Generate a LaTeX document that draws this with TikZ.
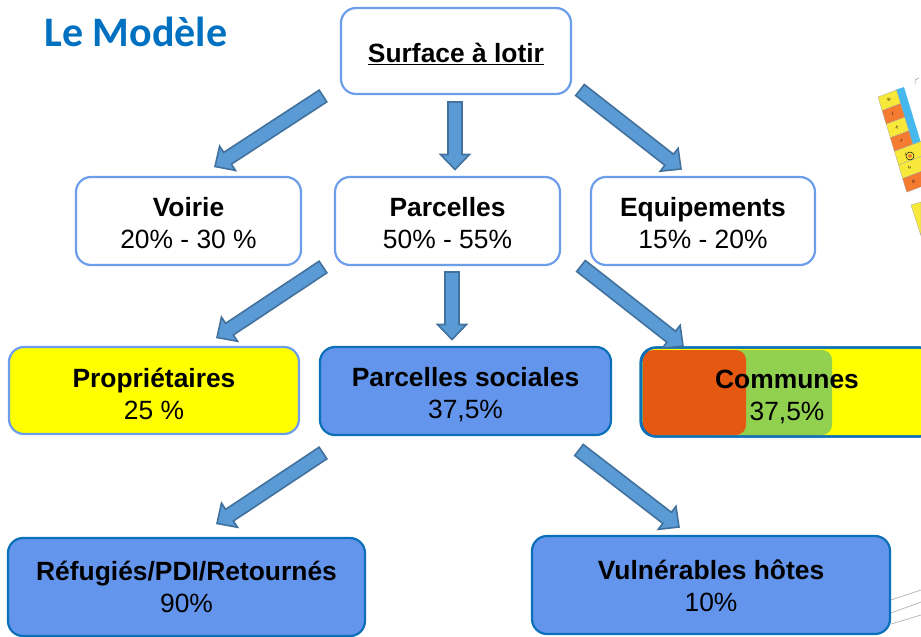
\documentclass[tikz,border=0pt]{standalone}
\usepackage{fontspec}
\setmainfont{Liberation Sans}
\newfontfamily\titlefont{Carlito}
\usetikzlibrary{calc}
\definecolor{lightedge}{HTML}{6D9EEB}
\definecolor{darkedge}{HTML}{0B70B8}
\definecolor{fillblue}{HTML}{6495ED}
\definecolor{arrowfill}{HTML}{5B9BD5}
\definecolor{arrowedge}{HTML}{41719C}
\definecolor{titleblue}{HTML}{0070C0}
\definecolor{commorange}{HTML}{E55812}
\definecolor{commgreen}{HTML}{92D050}
\definecolor{pureyellow}{HTML}{FFFF00}
\definecolor{mapyellow}{HTML}{F7E83A}
\definecolor{maporange}{HTML}{F47B30}
\definecolor{mapblue}{HTML}{45B8EE}
\tikzset{
  x=1pt,y=-1pt,
  boxbase/.style={rounded corners=15pt,line width=2.2pt,align=center,text=black,inner sep=0pt,anchor=center},
  lightbox/.style={boxbase,draw=lightedge,fill=white},
  yellowbox/.style={boxbase,draw=lightedge,fill=pureyellow},
  bluebox/.style={boxbase,draw=darkedge,fill=fillblue},
  blockarrow/.style={draw=arrowedge,fill=arrowfill,line width=1.6pt,line join=miter},
  boxtext/.style={font=\fontsize{26.4}{32}\selectfont,align=center,inner sep=0pt,text=black},
  cell/.style={draw=black!35,line width=.3pt},
  scratch/.style={draw=black!30,line width=.7pt},
}
% tail coordinate, tip coordinate, head length
\newcommand{\blockarrowdraw}[3]{%
  \coordinate (hb) at ($(#2)!#3pt!(#1)$);
  \draw[blockarrow]
    ($(#1)!7pt!90:(#2)$) -- ($(hb)!7pt!90:(#2)$) -- ($(hb)!14.5pt!90:(#2)$) -- (#2)
    -- ($(hb)!14.5pt!-90:(#2)$) -- ($(hb)!7pt!-90:(#2)$) -- ($(#1)!7pt!-90:(#2)$) -- cycle;
}
\newcommand{\boxnode}[8]{% style,name,x1,y1,x2,y2,text,text shift down
  \node[#1,minimum width=#5pt-#3pt,minimum height=#6pt-#4pt] (#2) at ({(#3+#5)/2},{(#4+#6)/2}) {};
  \node[boxtext,yshift=-#8pt] (#2t) at (#2.center) {#7};
}
\begin{document}
\begin{tikzpicture}
\useasboundingbox (0,0) rectangle (921,637);
\begin{scope}
\clip (0,0) rectangle (921,637);
% map fragment
\fill[mapblue] (895,90) -- (904,87) -- (921,143) -- (921,148) -- (913,145) -- cycle;
\foreach \i/\c/\l/\w in {0/mapyellow/M/18.5,1/maporange/L/18.5,2/mapyellow/K/18.5,3/maporange/J/18.5,4/mapyellow/I/40,5/mapyellow/H/40,6/maporange/G/40}{
  \draw[cell,fill=\c] ({878+4.1*\i},{97+13.6*\i}) -- ++(\w,-{\w*0.38}) -- ++(4.1,13.6) -- ++(-\w,{\w*0.38}) -- cycle;
  \node[font=\fontsize{4}{4}\selectfont,inner sep=0pt,rotate=-20] (map\i) at ({889+4.1*\i},{100+13.6*\i}) {\l};
}
\draw[black,line width=.5pt] (910,156) circle (4);
\fill[maporange] (910,156) circle (2);
\draw[cell,fill=mapyellow] (911,205) -- (921,202) -- (921,236) -- cycle;
\draw[black!40,line width=.5pt] (915,84) -- (915,80) -- (919,78);
\draw[scratch] (891,600) -- (921,590);
\draw[scratch] (891,613) -- (921,602);
\draw[scratch] (891,624) -- (921,615);
% title
\node[font=\titlefont\bfseries\fontsize{42}{46}\selectfont,text=titleblue,anchor=center,inner sep=0pt] (title) at (136,31.5) {Le Modèle};
% boxes
\node[lightbox,minimum width=230pt,minimum height=86pt] (surface) at (456,51) {};
\node[boxtext] (surfacet) at (456,54) {\textbf{\underline{Surface à lotir}}};
\boxnode{lightbox}{voirie}{76}{177}{301}{265}{\textbf{Voirie}\\20\% - 30 \%}{2.5}
\boxnode{lightbox}{parcelles}{335}{177}{560}{265}{\textbf{Parcelles}\\50\% - 55\%}{2.5}
\boxnode{lightbox}{equip}{591}{177}{815}{265}{\textbf{Equipements}\\15\% - 20\%}{2.5}
\boxnode{yellowbox}{prop}{9}{347}{299}{434}{\textbf{Propriétaires}\\25 \%}{3}
\boxnode{bluebox}{sociales}{320}{347}{611}{435}{\textbf{Parcelles sociales}\\37,5\%}{3.5}
% communes: three overlapping bars
\node[boxbase,draw=darkedge,fill=pureyellow,minimum width=293pt,minimum height=89pt] (communes) at (787,392) {};
\fill[commgreen,rounded corners=10pt] (700,350) rectangle (832,435);
\fill[commorange,rounded corners=10pt] (643,350) rectangle (746,435);
\draw[darkedge,line width=2.2pt,rounded corners=15pt] (641.5,347.5) rectangle (935,436.5);
\node[boxtext] (communest) at (787,397) {\textbf{Communes}\\37,5\%};
\boxnode{bluebox}{refugies}{8}{538}{365}{636}{\textbf{Réfugiés/PDI/Retournés}\\90\%}{0}
\boxnode{bluebox}{vulner}{532}{536}{890}{634}{\textbf{Vulnérables hôtes}\\10\%}{1}
\end{scope}
% arrows
\coordinate (a1s) at (323,96);  \coordinate (a1e) at (215,166.5);
\coordinate (a2s) at (455,102); \coordinate (a2e) at (455,169.5);
\coordinate (a3s) at (580,90);  \coordinate (a3e) at (681,169);
\coordinate (a4s) at (323,267); \coordinate (a4e) at (217,337.5);
\coordinate (a5s) at (452,272); \coordinate (a5e) at (452,339.5);
\coordinate (a6s) at (581,266); \coordinate (a6e) at (683,346);
\coordinate (a7s) at (323,453); \coordinate (a7e) at (217,523.5);
\coordinate (a8s) at (579,450); \coordinate (a8e) at (679,527);
\blockarrowdraw{a1s}{a1e}{15}
\blockarrowdraw{a2s}{a2e}{15}
\blockarrowdraw{a3s}{a3e}{15}
\blockarrowdraw{a4s}{a4e}{15}
\blockarrowdraw{a5s}{a5e}{15}
\blockarrowdraw{a6s}{a6e}{15}
\blockarrowdraw{a7s}{a7e}{15}
\blockarrowdraw{a8s}{a8e}{15}
\end{tikzpicture}
\end{document}
